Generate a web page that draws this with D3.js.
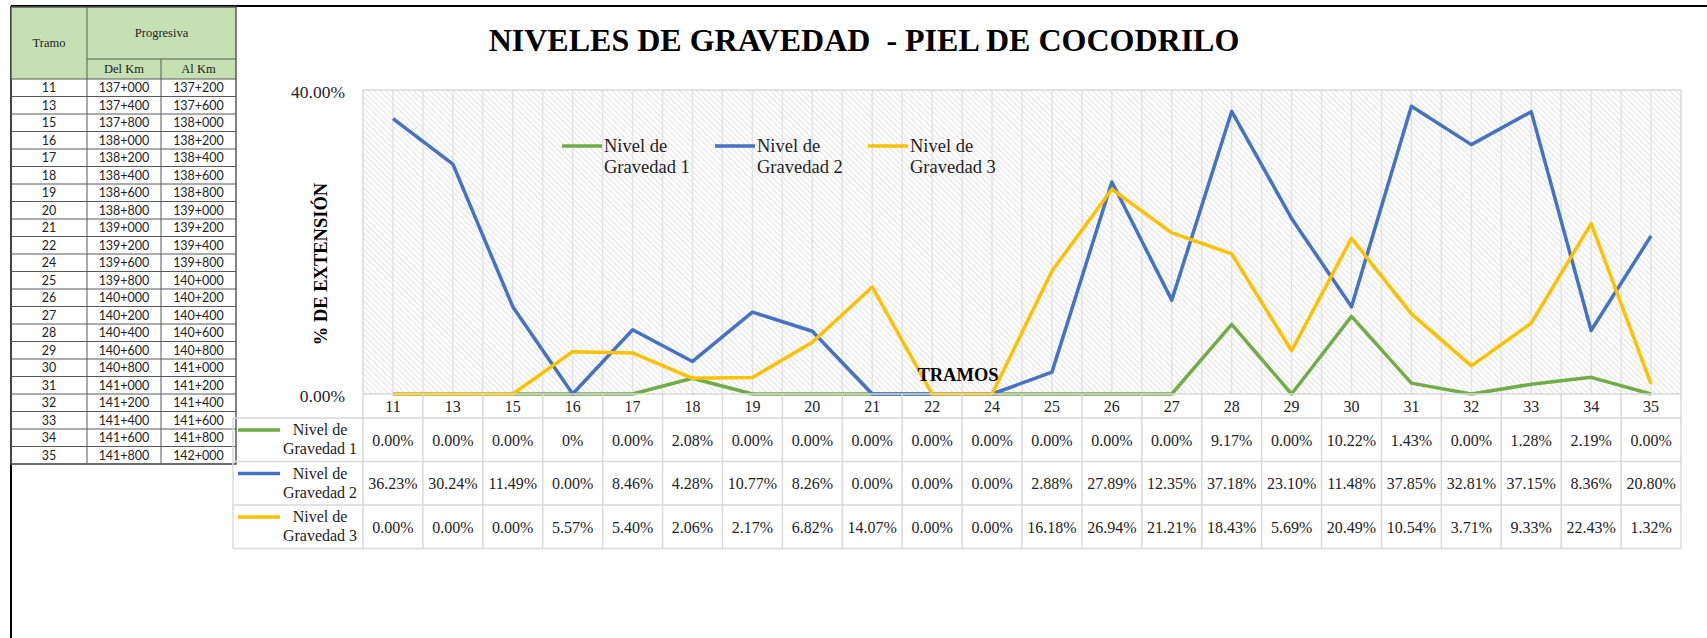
<!DOCTYPE html>
<html>
<head>
<meta charset="utf-8">
<script src="https://cdn.jsdelivr.net/npm/d3@7"></script>
<style>
  body { margin: 0; background: #fff; }
  svg { display: block; }
</style>
</head>
<body>
<svg id="chart" width="1707" height="638"></svg>
<script>
// tramos (categories) and progresivas for the side table
const tramos = ["11", "13", "15", "16", "17", "18", "19", "20", "21", "22", "24",
                "25", "26", "27", "28", "29", "30", "31", "32", "33", "34", "35"];
const delKm = ["137+000", "137+400", "137+800", "138+000", "138+200", "138+400", "138+600",
               "138+800", "139+000", "139+200", "139+600", "139+800", "140+000", "140+200",
               "140+400", "140+600", "140+800", "141+000", "141+200", "141+400", "141+600", "141+800"];
const alKm = ["137+200", "137+600", "138+000", "138+200", "138+400", "138+600", "138+800",
              "139+000", "139+200", "139+400", "139+800", "140+000", "140+200", "140+400",
              "140+600", "140+800", "141+000", "141+200", "141+400", "141+600", "141+800", "142+000"];

// % de extensión por nivel de gravedad
const gravedad1 = [0, 0, 0, 0, 0, 0.0208, 0, 0, 0, 0, 0, 0, 0, 0, 0.0917, 0, 0.1022, 0.0143, 0, 0.0128, 0.0219, 0];
const gravedad2 = [0.3623, 0.3024, 0.1149, 0, 0.0846, 0.0428, 0.1077, 0.0826, 0, 0, 0, 0.0288, 0.2789, 0.1235,
                   0.3718, 0.2310, 0.1148, 0.3785, 0.3281, 0.3715, 0.0836, 0.2080];
const gravedad3 = [0, 0, 0, 0.0557, 0.0540, 0.0206, 0.0217, 0.0682, 0.1407, 0, 0, 0.1618, 0.2694, 0.2121,
                   0.1843, 0.0569, 0.2049, 0.1054, 0.0371, 0.0933, 0.2243, 0.0132];

const seriesNames = ["Nivel de Gravedad 1", "Nivel de Gravedad 2", "Nivel de Gravedad 3"];
const seriesColors = ["#70AD47", "#4472C4", "#FFC000"];
const yTicks = [0, 0.4];
// the source table shows "0%" for tramo 16 in nivel 1
const labelOverrides = [{ serie: 0, index: 3, text: "0%" }];

const series = [gravedad1, gravedad2, gravedad3].map((values, i) => ({
    name: seriesNames[i], color: seriesColors[i], values: values
}));

const svg = d3.select("#chart");
const serif = "'Liberation Serif', 'Times New Roman', serif";
const sans = "Lato, 'Liberation Sans', sans-serif";

// ---------- outer frame (left + top) ----------
svg.append("line").attr("x1", 11).attr("x2", 1707).attr("y1", 6).attr("y2", 6)
    .attr("stroke", "#000").attr("stroke-width", 2);
svg.append("line").attr("x1", 11).attr("x2", 11).attr("y1", 6).attr("y2", 638)
    .attr("stroke", "#000").attr("stroke-width", 2);

// ---------- side table ----------
const tbl = svg.append("g").attr("class", "side-table");
const colX = [11, 87, 161, 236];
const headTop = 7, headMid = 59, headBottom = 79, rowH = 17.5;
const tableBottom = headBottom + tramos.length * rowH;

tbl.append("rect").attr("x", colX[0]).attr("y", headTop)
    .attr("width", colX[3] - colX[0]).attr("height", headBottom - headTop)
    .attr("fill", "#C6E0B4");

const gridColor = "#595959";
// horizontal lines
const hLines = [headBottom].concat(tramos.map((t, i) => headBottom + (i + 1) * rowH));
hLines.forEach(y => {
    tbl.append("line").attr("x1", colX[0]).attr("x2", colX[3]).attr("y1", y).attr("y2", y)
        .attr("stroke", gridColor).attr("stroke-width", 1);
});
tbl.append("line").attr("x1", colX[1]).attr("x2", colX[3]).attr("y1", headMid).attr("y2", headMid)
    .attr("stroke", gridColor).attr("stroke-width", 1);
// vertical lines
tbl.append("line").attr("x1", colX[1]).attr("x2", colX[1]).attr("y1", headTop).attr("y2", tableBottom)
    .attr("stroke", gridColor).attr("stroke-width", 1);
tbl.append("line").attr("x1", colX[2]).attr("x2", colX[2]).attr("y1", headMid).attr("y2", tableBottom)
    .attr("stroke", gridColor).attr("stroke-width", 1);
tbl.append("rect").attr("x", colX[0]).attr("y", headTop)
    .attr("width", colX[3] - colX[0]).attr("height", tableBottom - headTop)
    .attr("fill", "none").attr("stroke", gridColor).attr("stroke-width", 1.5);

const headFont = 12.5;
tbl.append("text").attr("x", (colX[0] + colX[1]) / 2).attr("y", 47)
    .attr("text-anchor", "middle").attr("font-family", serif).attr("font-size", headFont)
    .attr("fill", "#222").text("Tramo");
tbl.append("text").attr("x", (colX[1] + colX[3]) / 2).attr("y", 37)
    .attr("text-anchor", "middle").attr("font-family", serif).attr("font-size", headFont)
    .attr("fill", "#222").text("Progresiva");
tbl.append("text").attr("x", (colX[1] + colX[2]) / 2).attr("y", 73)
    .attr("text-anchor", "middle").attr("font-family", serif).attr("font-size", headFont)
    .attr("fill", "#222").text("Del Km");
tbl.append("text").attr("x", (colX[2] + colX[3]) / 2).attr("y", 73)
    .attr("text-anchor", "middle").attr("font-family", serif).attr("font-size", headFont)
    .attr("fill", "#222").text("Al Km");

const sideCols = [tramos, delKm, alKm];
sideCols.forEach((col, c) => {
    tbl.selectAll(null).data(col).join("text")
        .attr("x", (colX[c] + colX[c + 1]) / 2)
        .attr("y", (d, i) => headBottom + i * rowH + 13)
        .attr("text-anchor", "middle")
        .attr("font-family", sans).attr("font-size", 12.5)
        .attr("fill", "#222")
        .text(d => d);
});

// ---------- chart ----------
const plot = { left: 363, right: 1681, top: 90, bottom: 394 };

const x = d3.scaleBand().domain(tramos).range([plot.left, plot.right]).padding(0);
const y = d3.scaleLinear().domain([0, 0.4]).range([plot.bottom, plot.top]);
const bw = x.bandwidth();
const pct = d3.format(".2%");

// hatch pattern
const defs = svg.append("defs");
defs.append("pattern")
    .attr("id", "hatch")
    .attr("patternUnits", "userSpaceOnUse")
    .attr("width", 4).attr("height", 4)
    .attr("patternTransform", "rotate(-45)")
    .append("line")
    .attr("x1", 0).attr("y1", 0).attr("x2", 0).attr("y2", 4)
    .attr("stroke", "#d4d4d4").attr("stroke-width", 1.3);

svg.append("rect")
    .attr("x", plot.left).attr("y", plot.top)
    .attr("width", plot.right - plot.left).attr("height", plot.bottom - plot.top)
    .attr("fill", "url(#hatch)");

// vertical gridlines: category centers and boundaries
const gridXs = [];
tramos.forEach(t => {
    gridXs.push(x(t) + bw / 2);
    if (x(t) > plot.left) gridXs.push(x(t));
});
svg.append("g").selectAll("line").data(gridXs).join("line")
    .attr("x1", d => d).attr("x2", d => d)
    .attr("y1", plot.top).attr("y2", plot.bottom)
    .attr("stroke", "#e3e3e3").attr("stroke-width", 1.5);

// plot border
svg.append("path")
    .attr("d", `M${plot.left},${plot.bottom}V${plot.top}H${plot.right}V${plot.bottom}`)
    .attr("fill", "none").attr("stroke", "#d9d9d9").attr("stroke-width", 1.5);

// y axis labels
const yAxis = svg.append("g")
    .attr("transform", `translate(${plot.left - 15},0)`)
    .call(d3.axisLeft(y).tickValues(yTicks).tickSize(0).tickFormat(pct));
yAxis.select(".domain").remove();
yAxis.selectAll("text")
    .attr("font-family", serif).attr("font-size", 17.5)
    .attr("fill", "#222").attr("dy", "0.42em");

// title
svg.append("text")
    .attr("x", 864).attr("y", 51)
    .attr("text-anchor", "middle")
    .attr("font-family", serif).attr("font-weight", "bold").attr("font-size", 32)
    .attr("fill", "#000")
    .attr("xml:space", "preserve")
    .text("NIVELES DE GRAVEDAD  - PIEL DE COCODRILO");

// y axis title
svg.append("text")
    .attr("transform", `translate(327,264) rotate(-90)`)
    .attr("text-anchor", "middle")
    .attr("font-family", serif).attr("font-weight", "bold").attr("font-size", 18.5)
    .attr("fill", "#000")
    .text("% DE EXTENSIÓN");

// lines
const line = d3.line()
    .x((d, i) => x(tramos[i]) + bw / 2)
    .y(d => y(d));

svg.append("g").selectAll("path").data(series).join("path")
    .attr("d", d => line(d.values))
    .attr("fill", "none")
    .attr("stroke", d => d.color)
    .attr("stroke-width", 3.5)
    .attr("stroke-linejoin", "round");

// x axis title
svg.append("text")
    .attr("x", 958).attr("y", 381)
    .attr("text-anchor", "middle")
    .attr("font-family", serif).attr("font-weight", "bold").attr("font-size", 18.5)
    .attr("fill", "#000")
    .text("TRAMOS");

// legend
const legend = svg.append("g");
const legendItems = legend.selectAll("g").data(series).join("g")
    .attr("transform", (d, i) => `translate(${562 + i * 153},146)`);
legendItems.append("line")
    .attr("x1", 0).attr("x2", 40).attr("y1", 0).attr("y2", 0)
    .attr("stroke", d => d.color).attr("stroke-width", 3.5);
const legendText = legendItems.append("text")
    .attr("x", 42).attr("y", 6)
    .attr("font-family", serif).attr("font-size", 18.5)
    .attr("fill", "#222");
legendText.append("tspan").attr("x", 42).text("Nivel de");
legendText.append("tspan").attr("x", 42).attr("dy", 21).text(d => d.name.replace("Nivel de ", ""));

// ---------- data table under the chart ----------
const dt = { left: 233, labelBottom: 418, rowH: 43.5 };
const dtBottom = dt.labelBottom + series.length * dt.rowH;
const dtColor = "#d9d9d9";
const dtg = svg.append("g");

// category labels row
dtg.selectAll("text.cat").data(tramos).join("text")
    .attr("class", "cat")
    .attr("x", d => x(d) + bw / 2).attr("y", 412)
    .attr("text-anchor", "middle")
    .attr("font-family", serif).attr("font-size", 16)
    .attr("fill", "#222")
    .text(d => d);

// vertical separators
const bounds = tramos.map(t => x(t)).concat([plot.right]);
dtg.selectAll("line.v").data(bounds).join("line")
    .attr("class", "v")
    .attr("x1", d => d).attr("x2", d => d)
    .attr("y1", plot.bottom).attr("y2", dtBottom)
    .attr("stroke", dtColor).attr("stroke-width", 1.5);
dtg.append("line").attr("x1", dt.left).attr("x2", dt.left)
    .attr("y1", dt.labelBottom).attr("y2", dtBottom)
    .attr("stroke", dtColor).attr("stroke-width", 1.5);

// horizontal separators
const rowYs = d3.range(series.length + 1).map(i => dt.labelBottom + i * dt.rowH);
dtg.selectAll("line.h").data(rowYs).join("line")
    .attr("class", "h")
    .attr("x1", dt.left).attr("x2", plot.right)
    .attr("y1", d => d).attr("y2", d => d)
    .attr("stroke", dtColor).attr("stroke-width", 1.5);
dtg.append("line").attr("x1", plot.left).attr("x2", plot.right)
    .attr("y1", plot.bottom).attr("y2", plot.bottom)
    .attr("stroke", dtColor).attr("stroke-width", 1.5);

// series key + values
series.forEach((s, si) => {
    const top = dt.labelBottom + si * dt.rowH;
    dtg.append("line")
        .attr("x1", 238).attr("x2", 280).attr("y1", top + 12).attr("y2", top + 12)
        .attr("stroke", s.color).attr("stroke-width", 3.5);
    const key = dtg.append("text")
        .attr("text-anchor", "middle")
        .attr("font-family", serif).attr("font-size", 16)
        .attr("fill", "#222");
    key.append("tspan").attr("x", 320).attr("y", top + 17).text("Nivel de");
    key.append("tspan").attr("x", 320).attr("y", top + 36).text(s.name.replace("Nivel de ", ""));

    dtg.selectAll(null).data(s.values).join("text")
        .attr("x", (d, i) => x(tramos[i]) + bw / 2)
        .attr("y", top + dt.rowH / 2 + 6)
        .attr("text-anchor", "middle")
        .attr("font-family", serif).attr("font-size", 16)
        .attr("fill", "#222")
        .text((d, i) => {
            const o = labelOverrides.find(l => l.serie === si && l.index === i);
            return o ? o.text : pct(d);
        });
});
</script>
</body>
</html>
